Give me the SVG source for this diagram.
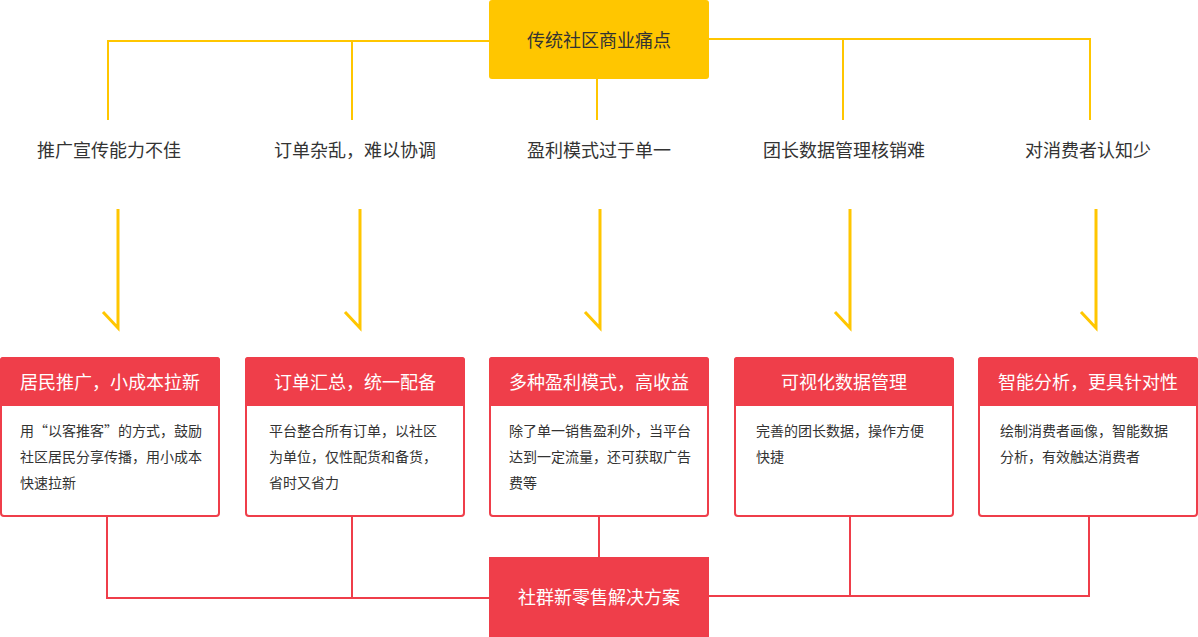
<svg xmlns="http://www.w3.org/2000/svg" width="1198" height="637" viewBox="0 0 1198 637">
<style>
text{font-family:"Noto Sans CJK SC","Liberation Sans",sans-serif}
.y{stroke:#ffc600;stroke-width:2;fill:none}
.ya{stroke:#ffc600;stroke-width:3;fill:none}
.r{stroke:#ef3e4a;stroke-width:2;fill:none}
.lbl{font-size:18px;fill:#333;text-anchor:middle}
.card{fill:#fff;stroke:#ef3e4a;stroke-width:2}
.hd{fill:#ef3e4a}
.ht{font-size:18px;fill:#fff;text-anchor:middle}
.bt{font-size:14px;fill:#333}
</style>
<g id="connectors">
<path class="y" d="M489 41H108V120M352 41V120M597 79V120M709 39H1090V120M843 39V120"/>
<path class="ya" d="M118 209V328L103 312M360 209V328L345 312M600 209V328L585 312M850 209V328L835 312M1096 209V328L1081 312"/>
<path class="r" d="M107 516V598H489M352 516V598M599 516V557M709 596H1089V516M850 516V596"/>
</g>
<g id="top"><rect x="489" y="0" width="220" height="79" rx="3" fill="#ffc600"/><text x="599" y="47" class="lbl" fill="#333">传统社区商业痛点</text></g>
<g id="p1"><text x="109" y="157" class="lbl">推广宣传能力不佳</text></g>
<g id="p2"><text x="355" y="157" class="lbl">订单杂乱，难以协调</text></g>
<g id="p3"><text x="599" y="157" class="lbl">盈利模式过于单一</text></g>
<g id="p4"><text x="844" y="157" class="lbl">团长数据管理核销难</text></g>
<g id="p5"><text x="1088" y="157" class="lbl">对消费者认知少</text></g>
<g id="c1"><rect class="card" x="1" y="358" width="218" height="158" rx="3"/><path class="hd" d="M0 360a3 3 0 0 1 3-3H217a3 3 0 0 1 3 3V406H0Z"/><text x="110" y="389" class="ht">居民推广，小成本拉新</text>
<text class="bt" x="20" y="436">用“以客推客”的方式，鼓励</text><text class="bt" x="20" y="462">社区居民分享传播，用小成本</text><text class="bt" x="20" y="488">快速拉新</text></g>
<g id="c2"><rect class="card" x="246" y="358" width="218" height="158" rx="3"/><path class="hd" d="M245 360a3 3 0 0 1 3-3H462a3 3 0 0 1 3 3V406H245Z"/><text x="355" y="389" class="ht">订单汇总，统一配备</text>
<text class="bt" x="269" y="436">平台整合所有订单，以社区</text><text class="bt" x="269" y="462">为单位，仅性配货和备货，</text><text class="bt" x="269" y="488">省时又省力</text></g>
<g id="c3"><rect class="card" x="490" y="358" width="218" height="158" rx="3"/><path class="hd" d="M489 360a3 3 0 0 1 3-3H706a3 3 0 0 1 3 3V406H489Z"/><text x="599" y="389" class="ht">多种盈利模式，高收益</text>
<text class="bt" x="509" y="436">除了单一销售盈利外，当平台</text><text class="bt" x="509" y="462">达到一定流量，还可获取广告</text><text class="bt" x="509" y="488">费等</text></g>
<g id="c4"><rect class="card" x="735" y="358" width="218" height="158" rx="3"/><path class="hd" d="M734 360a3 3 0 0 1 3-3H951a3 3 0 0 1 3 3V406H734Z"/><text x="844" y="389" class="ht">可视化数据管理</text>
<text class="bt" x="756" y="436">完善的团长数据，操作方便</text><text class="bt" x="756" y="462">快捷</text></g>
<g id="c5"><rect class="card" x="979" y="358" width="218" height="158" rx="3"/><path class="hd" d="M978 360a3 3 0 0 1 3-3H1195a3 3 0 0 1 3 3V406H978Z"/><text x="1088" y="389" class="ht">智能分析，更具针对性</text>
<text class="bt" x="1000" y="436">绘制消费者画像，智能数据</text><text class="bt" x="1000" y="462">分析，有效触达消费者</text></g>
<g id="bottom"><rect x="489" y="557" width="220" height="80" fill="#ef3e4a"/><text x="599" y="604" class="ht">社群新零售解决方案</text></g>
</svg>
